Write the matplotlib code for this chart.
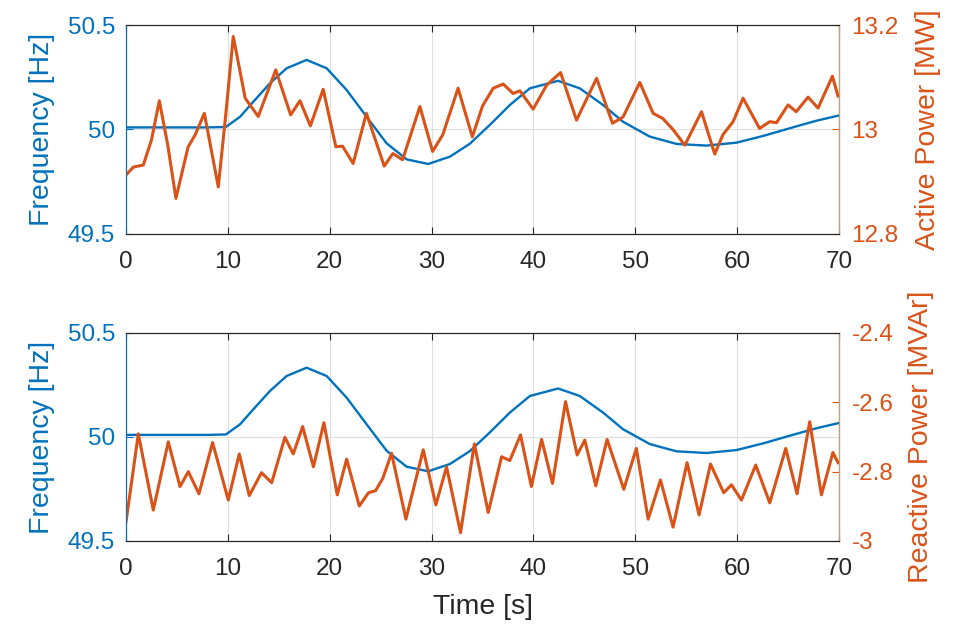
import numpy as np
import matplotlib.pyplot as plt

plt.rcParams['font.family'] = ['Liberation Sans', 'DejaVu Sans']

# colores tipo MATLAB
azul = '#0072BD'
naranja = '#D95319'
gris = '#262626'

# Frecuencia (igual en ambas graficas)
t_f = [0, 2, 4, 6, 8, 9.8, 11.2, 12.5, 14.13, 15.77, 17.73, 19.7, 21.66, 23.62,
       25.58, 27.55, 29.67, 31.8, 33.76, 35.72, 37.68, 39.65, 42.42, 44.55,
       46.84, 48.8, 51.42, 54.04, 56.98, 59.93, 62.54, 65.16, 67.78, 69.9]
frec = [50.01, 50.01, 50.01, 50.01, 50.01, 50.012, 50.061, 50.133, 50.221, 50.293,
        50.333, 50.293, 50.189, 50.061, 49.934, 49.857, 49.835, 49.87, 49.932,
        50.022, 50.117, 50.197, 50.233, 50.197, 50.117, 50.037, 49.966, 49.931,
        49.923, 49.937, 49.969, 50.006, 50.042, 50.066]

# Potencia activa [MW]
t_p = [0, 0.72, 1.7, 2.5, 3.27, 4.1, 4.9, 6.1, 6.77, 7.69, 9.06, 9.8, 10.53, 11.7,
       12.98, 14.7, 16.16, 17.08, 18.1, 19.36, 20.6, 21.26, 22.3, 23.6, 25.35,
       26.2, 27.15, 28.85, 30.1, 31.1, 32.6, 34.0, 35.0, 36.05, 37.03, 38.0,
       38.67, 39.97, 41.3, 42.66, 44.23, 46.2, 47.76, 48.8, 50.44, 51.75, 52.7,
       53.7, 54.86, 56.5, 57.8, 58.6, 59.6, 60.58, 62.2, 63.2, 63.86, 65.0,
       65.8, 66.96, 67.94, 69.35, 69.9]
pot_act = [12.913, 12.928, 12.932, 12.98, 13.055, 12.97, 12.868, 12.967, 12.989,
           13.031, 12.89, 13.03, 13.178, 13.06, 13.025, 13.114, 13.028, 13.055,
           13.007, 13.077, 12.967, 12.968, 12.935, 13.031, 12.93, 12.954, 12.942,
           13.044, 12.958, 12.99, 13.079, 12.986, 13.045, 13.079, 13.087, 13.069,
           13.074, 13.039, 13.085, 13.109, 13.018, 13.098, 13.012, 13.024, 13.09,
           13.031, 13.021, 13.0, 12.97, 13.034, 12.953, 12.99, 13.015, 13.06,
           13.002, 13.015, 13.013, 13.047, 13.034, 13.062, 13.041, 13.102, 13.064]

# Potencia reactiva [MVAr]
t_q = [0, 1.21, 2.68, 4.15, 5.3, 6.12, 7.16, 8.5, 10.04, 11.12, 12.1, 13.3, 14.3,
       15.6, 16.42, 17.34, 18.4, 19.43, 20.74, 21.66, 22.9, 23.8, 24.5, 25.2,
       26.07, 27.48, 29.18, 30.42, 31.47, 32.84, 34.2, 35.56, 36.87, 37.68,
       38.73, 39.8, 40.8, 41.87, 43.15, 44.29, 45.04, 46.12, 47.23, 48.87, 50.1,
       51.26, 52.47, 53.71, 55.08, 56.26, 57.38, 58.68, 59.44, 60.42, 61.82,
       63.2, 64.77, 65.88, 67.12, 68.27, 69.4, 69.9]
pot_react = [-2.945, -2.691, -2.911, -2.714, -2.843, -2.8, -2.864, -2.716, -2.882,
             -2.749, -2.869, -2.803, -2.832, -2.701, -2.749, -2.67, -2.786, -2.659,
             -2.867, -2.764, -2.899, -2.861, -2.855, -2.82, -2.747, -2.937, -2.737,
             -2.896, -2.786, -2.976, -2.72, -2.918, -2.757, -2.768, -2.694, -2.843,
             -2.707, -2.834, -2.598, -2.752, -2.709, -2.841, -2.707, -2.851, -2.733,
             -2.937, -2.824, -2.96, -2.774, -2.925, -2.778, -2.861, -2.838, -2.882,
             -2.781, -2.89, -2.733, -2.864, -2.656, -2.867, -2.745, -2.774]

tam_ticks = 17.5
tam_etiq = 20.5

fig = plt.figure(figsize=(9.59, 6.30), dpi=100)
ax1 = fig.add_axes([0.1314, 0.6286, 0.7435, 0.3317])
ax3 = fig.add_axes([0.1314, 0.1413, 0.7435, 0.3302])


def preparar(ax, tiempo, potencia, lim_der, ticks_der, etq_der, nombre_der, pos_der):
    ax.plot(t_f, frec, color=azul, lw=1.7)
    ax.set_xlim(0, 70)
    ax.set_ylim(49.5, 50.5)
    ax.set_xticks(range(0, 71, 10))
    ax.set_yticks([49.5, 50, 50.5])
    ax.set_yticklabels(['49.5', '50', '50.5'])
    ax.grid(True, color='#dfdfdf', lw=0.8)
    ax.set_axisbelow(True)
    ax.tick_params(axis='x', direction='in', length=5, top=True, colors=gris,
                   labelsize=tam_ticks, pad=12, width=0.8)
    ax.tick_params(axis='y', direction='in', length=5, colors=azul,
                   labelsize=tam_ticks, pad=8, width=0.8)
    ax.set_ylabel('Frequency [Hz]', color=azul, fontsize=tam_etiq)
    ax.yaxis.set_label_coords(-0.099, 0.5)
    for lado in ['top', 'bottom']:
        ax.spines[lado].set_color(gris)
    ax.spines['left'].set_color(azul)

    ax2 = ax.twinx()
    ax2.plot(tiempo, potencia, color=naranja, lw=2.2, solid_joinstyle='round')
    ax2.set_ylim(*lim_der)
    ax2.set_yticks(ticks_der)
    ax2.set_yticklabels(etq_der)
    ax2.tick_params(axis='y', direction='in', length=5, colors=naranja,
                    labelsize=tam_ticks, pad=9, width=0.8)
    ax2.set_ylabel(nombre_der, color=naranja, fontsize=tam_etiq, rotation=90)
    ax2.yaxis.set_label_coords(pos_der, 0.5)
    ax2.spines['right'].set_color('#c9a06a')
    ax2.spines['left'].set_color(azul)
    ax2.spines['top'].set_color(gris)
    ax2.spines['bottom'].set_color(gris)
    return ax2


preparar(ax1, t_p, pot_act, (12.8, 13.2), [12.8, 13.0, 13.2],
         ['12.8', '13', '13.2'], 'Active Power [MW]', 1.107)
preparar(ax3, t_q, pot_react, (-3.0, -2.4), [-3.0, -2.8, -2.6, -2.4],
         ['-3', '-2.8', '-2.6', '-2.4'], 'Reactive Power [MVAr]', 1.097)
ax3.set_xlabel('Time [s]', color=gris, fontsize=tam_etiq, labelpad=10)

plt.savefig('out.png', dpi=100)
